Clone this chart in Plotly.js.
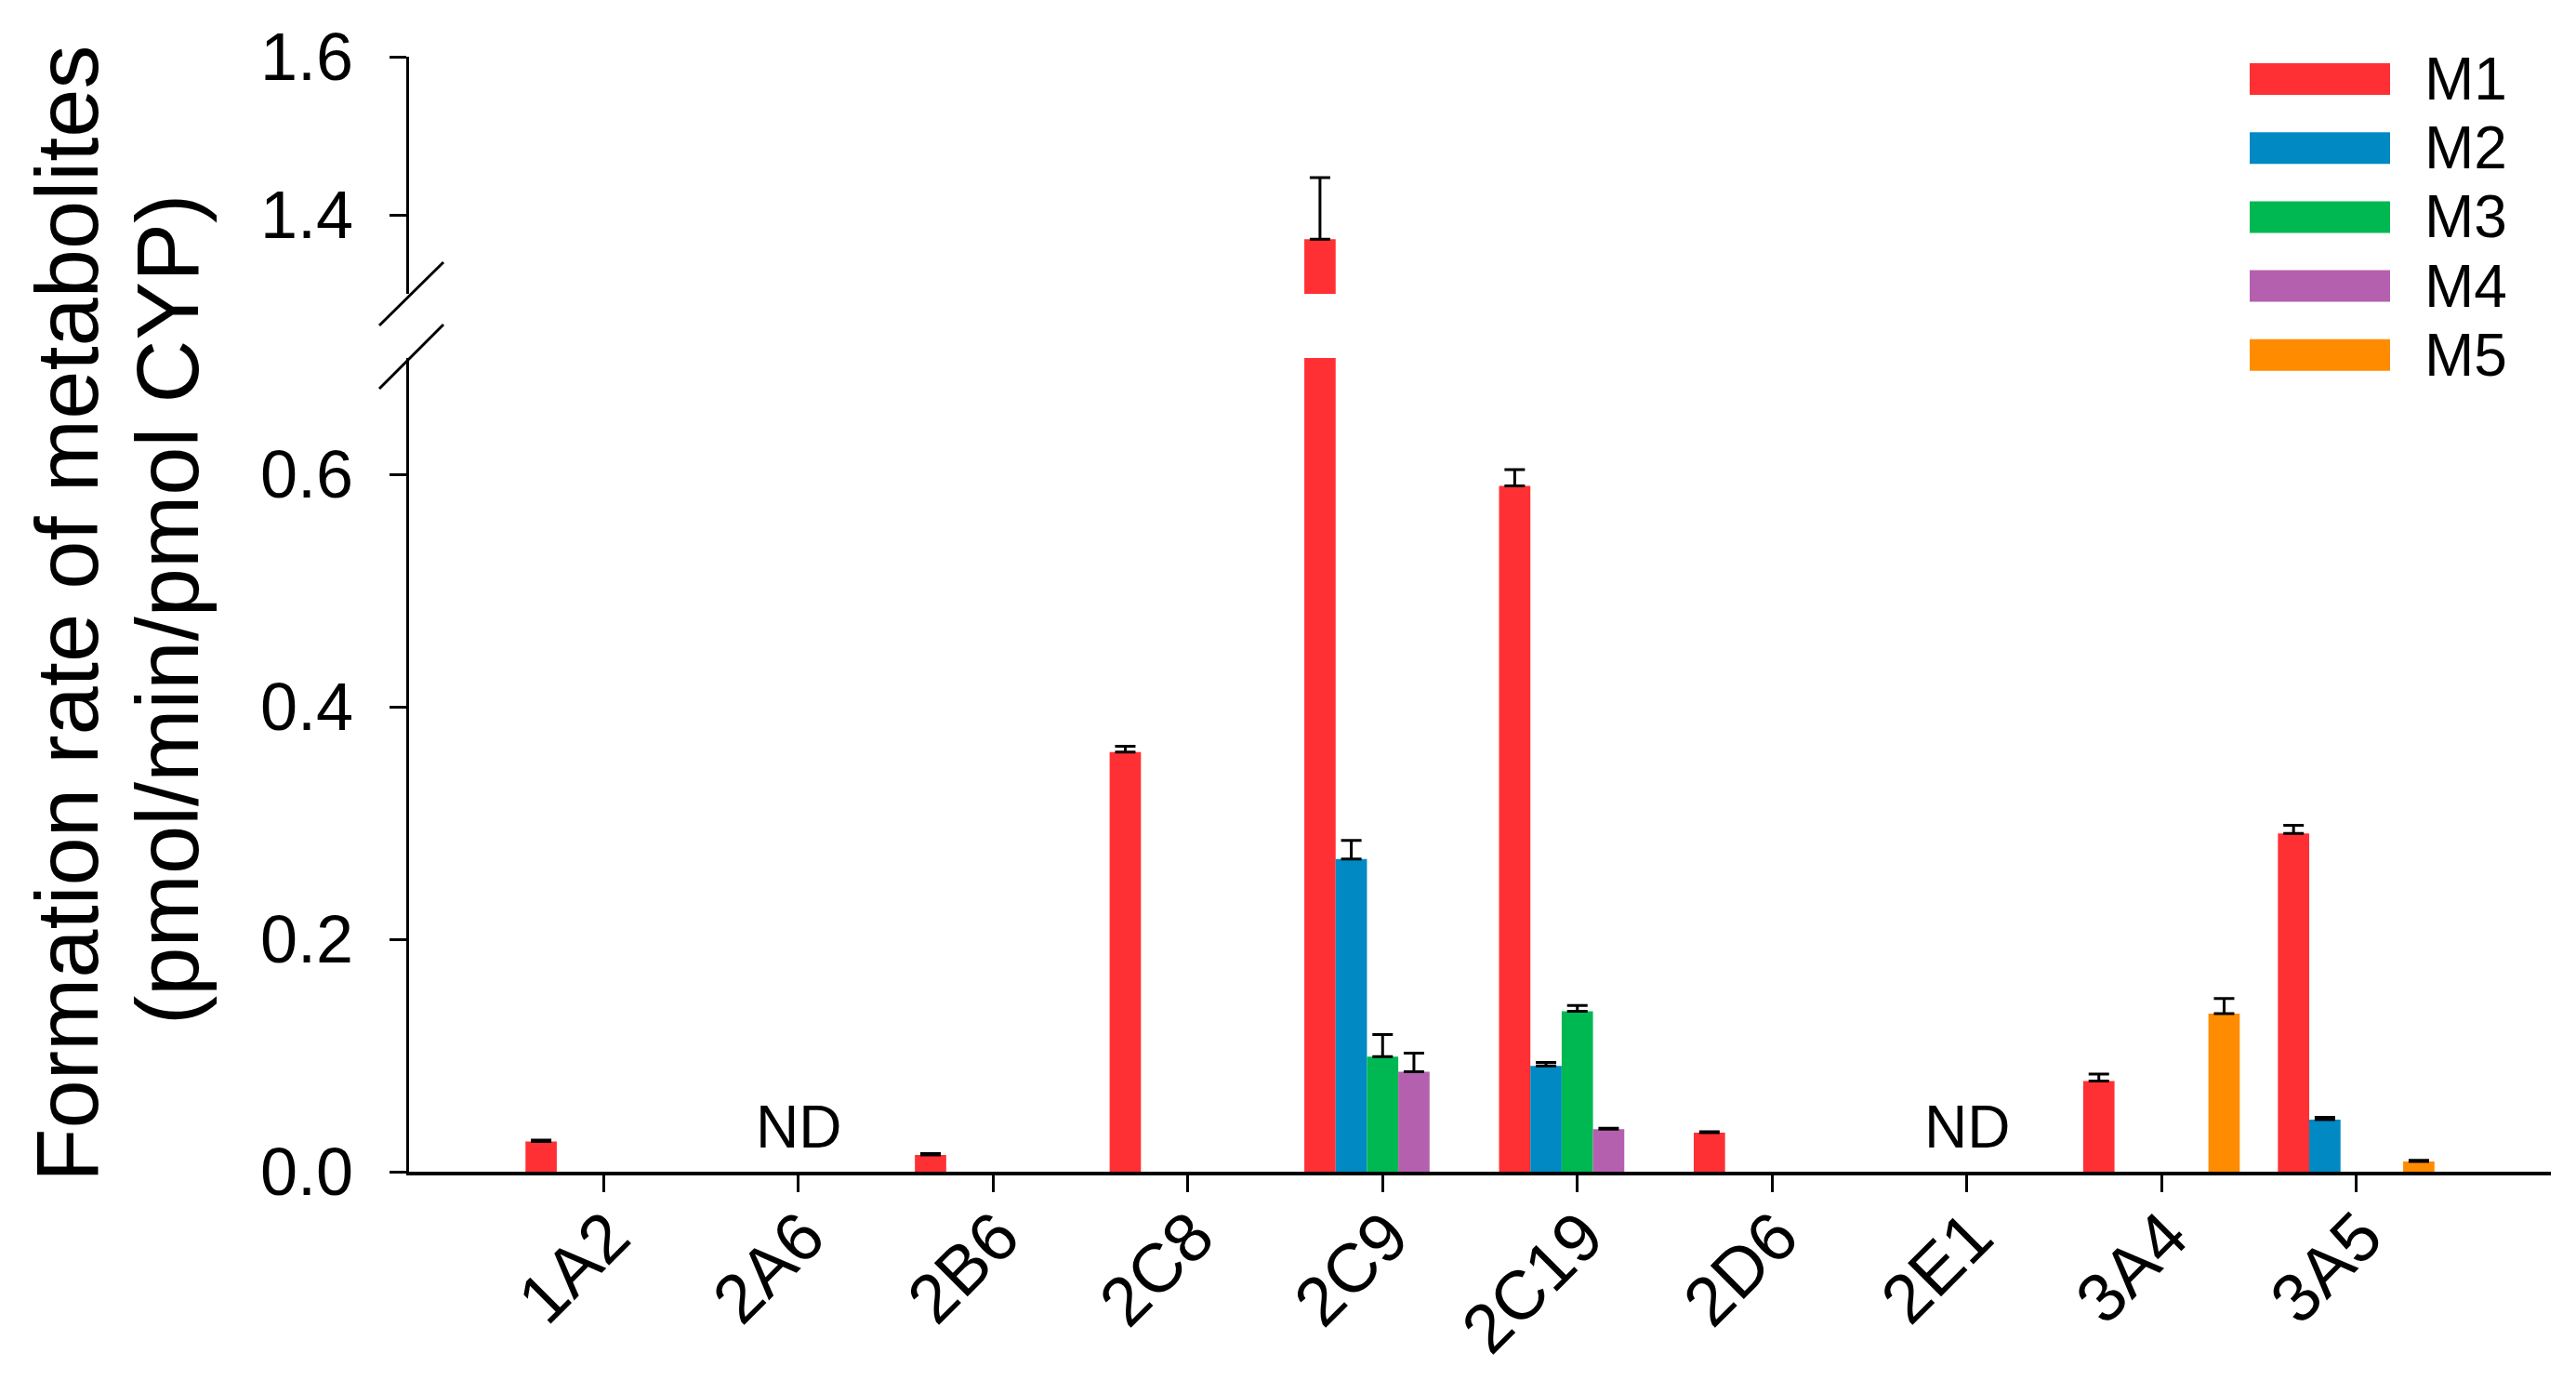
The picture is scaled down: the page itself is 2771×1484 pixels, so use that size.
<!DOCTYPE html>
<html>
<head>
<meta charset="utf-8">
<script src="https://cdn.plot.ly/plotly-3.0.1.min.js"></script>
<style>html,body{margin:0;padding:0;background:#fff;}#chart{width:2771px;height:1484px;}</style>
</head>
<body>
<div id="chart"></div>
<script>
// ---- data ----
const categories = ['1A2','2A6','2B6','2C8','2C9','2C19','2D6','2E1','3A4','3A5'];
const seriesNames = ['M1','M2','M3','M4','M5'];
const seriesColors = ['#FF3034','#0089C2','#00B852','#B460AF','#FF8C00'];
const M1 = [0.026, 0, 0.0144, 0.361, 1.369, 0.590, 0.0336, 0, 0.078, 0.291];
const M2 = [0, 0, 0, 0, 0.269, 0.091, 0, 0, 0, 0.0448];
const M3 = [0, 0, 0, 0, 0.099, 0.138, 0, 0, 0, 0];
const M4 = [0, 0, 0, 0, 0.086, 0.0366, 0, 0, 0, 0];
const M5 = [0, 0, 0, 0, 0, 0, 0, 0, 0.136, 0.0088];
const M1err = [0.0012, null, 0.0013, 0.005, 0.078, 0.014, 0.0008, null, 0.006, 0.007];
const M2err = [null, null, null, null, 0.016, 0.003, null, null, null, 0.002];
const M3err = [null, null, null, null, 0.019, 0.005, null, null, null, null];
const M4err = [null, null, null, null, 0.016, 0.0008, null, null, null, null];
const M5err = [null, null, null, null, null, null, null, null, 0.013, 0.001];
const ndCategories = ['2A6','2E1'];
const ndLabel = 'ND';
const yTitleLine1 = 'Formation rate of metabolites';
const yTitleLine2 = '(pmol/min/pmol CYP)';
const lowerTicks = [0, 0.2, 0.4, 0.6];
const upperTicks = [1.4, 1.6];

// ---- build ----
const values = [M1, M2, M3, M4, M5];
const errors = [M1err, M2err, M3err, M4err, M5err];
const FONT = 'Arial, "Liberation Sans", sans-serif';

const traces = [];
['y', 'y2'].forEach(function(ax){
  values.forEach(function(v, i){
    const e = errors[i].map(function(x){ return x == null ? NaN : x; });
    const em = errors[i].map(function(x){ return x == null ? NaN : 0; });
    traces.push({
      type: 'bar', x: categories, y: v, name: seriesNames[i],
      xaxis: 'x', yaxis: ax,
      marker: {color: seriesColors[i], line: {width: 0}},
      error_y: {type: 'data', array: e, arrayminus: em, symmetric: false,
                visible: true, color: '#000', thickness: 3, width: 11},
      showlegend: false, hoverinfo: 'x+y+name'
    });
  });
});

// plot-area pixel geometry
const W = 2771, H = 1484;
const mL = 440, mR = 27, mT = 61, mB = 224;
const pw = W - mL - mR, ph = H - mT - mB;
function px2x(p){ return (p - mL) / pw; }
function py2y(p){ return (H - mB - p) / ph; }

const shapes = [];
const annotations = [];

// axis break slashes
[[408,418,477,349],[408,350,477,282]].forEach(function(s){
  shapes.push({type:'line', xref:'paper', yref:'paper',
    x0: px2x(s[0]), y0: py2y(s[1]), x1: px2x(s[2]), y1: py2y(s[3]),
    line:{color:'#000', width:3}});
});

// legend (drawn manually to match wide swatches)
seriesNames.forEach(function(n, i){
  const cy = 85 + 74.2 * i;
  shapes.push({type:'rect', xref:'paper', yref:'paper', layer:'above',
    x0: px2x(2420), x1: px2x(2571), y0: py2y(cy + 17), y1: py2y(cy - 17),
    fillcolor: seriesColors[i], line:{width:0}});
  annotations.push({xref:'paper', yref:'paper', x: px2x(2606), y: py2y(cy),
    xanchor:'left', yanchor:'middle', text: n, showarrow:false,
    font:{family: FONT, size: 64, color:'#000'}});
});

// ND labels (placed by category index so that "2E1" is not read as a number)
ndCategories.forEach(function(c){
  annotations.push({xref:'x', yref:'y', x: categories.indexOf(c), y: 0.008,
    xanchor:'center', yanchor:'bottom',
    text: ndLabel, showarrow:false, font:{family: FONT, size: 64, color:'#000'}});
});

// y title (two lines)
annotations.push({xref:'paper', yref:'paper', x: px2x(72), y: py2y(660), textangle:-90,
  xanchor:'center', yanchor:'middle', text: yTitleLine1, showarrow:false,
  font:{family: FONT, size: 94, color:'#000'}});
annotations.push({xref:'paper', yref:'paper', x: px2x(180), y: py2y(656), textangle:-90,
  xanchor:'center', yanchor:'middle', text: yTitleLine2, showarrow:false,
  font:{family: FONT, size: 94, color:'#000'}});

const axisCommon = {
  showline: true, linecolor: '#000', linewidth: 3.5, showgrid: false, zeroline: false,
  ticks: 'outside', ticklen: 18, tickwidth: 3, tickcolor: '#000',
  tickfont: {family: FONT, size: 72, color: '#000'}
};

const layout = {
  width: W, height: H,
  margin: {l: mL, r: mR, t: mT, b: mB, pad: 0},
  paper_bgcolor: '#fff', plot_bgcolor: '#fff',
  barmode: 'group', bargap: 0.196, bargroupgap: 0,
  showlegend: false,
  xaxis: Object.assign({}, axisCommon, {
    type: 'category', range: [-1, 10], anchor: 'y', tickangle: -45,
    categoryorder: 'array', categoryarray: categories,
    tickfont: {family: FONT, size: 74, color: '#000'},
    ticklabelstandoff: -25, ticklabelshift: 6
  }),
  yaxis: Object.assign({}, axisCommon, {
    domain: [0, py2y(385)], range: [0, 0.7], anchor: 'x',
    tickvals: lowerTicks, tickformat: '.1f', ticklabelstandoff: 24
  }),
  yaxis2: Object.assign({}, axisCommon, {
    domain: [py2y(316), 1], range: [1.3, 1.6], anchor: 'x',
    tickvals: upperTicks, tickformat: '.1f', ticklabelstandoff: 24
  }),
  shapes: shapes,
  annotations: annotations
};

Plotly.newPlot('chart', traces, layout, {displayModeBar: false, staticPlot: true});
</script>
</body>
</html>
